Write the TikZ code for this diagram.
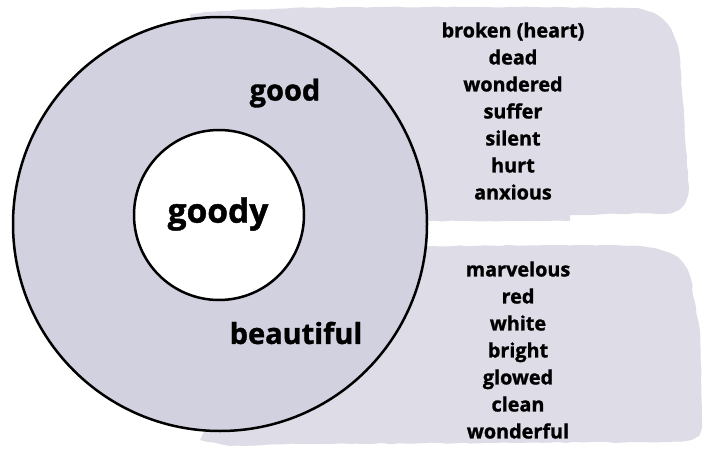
\documentclass[tikz,border=0pt]{standalone}
\usepackage{fontspec}
\setmainfont{Open Sans}[BoldFeatures={FakeBold=1.2}]
\usetikzlibrary{decorations.pathmorphing}
\definecolor{patch}{RGB}{221,220,231}
\definecolor{ring}{RGB}{209,209,223}
\tikzset{
  wordlist/.style={font=\fontsize{19.8}{27}\selectfont\bfseries, align=center, text=black, inner sep=0pt},
  ringlabel/.style={font=\fontsize{29}{32}\selectfont\bfseries, inner sep=0pt},
  patchfill/.style={fill=patch, draw=none},
  circ/.style={draw=black, line width=2.5pt}
}
\begin{document}
\begin{tikzpicture}[x=1pt,y=-1pt]
\useasboundingbox (0,0) rectangle (706,452);
% top patch
\fill[patch, decorate, decoration={random steps, segment length=8pt, amplitude=0.6pt}]
  (190,14) .. controls (250,6) and (400,6) .. (630,8)
  .. controls (665,10) and (675,30) .. (680,60)
  -- (688,180) .. controls (690,205) and (680,212) .. (660,213)
  -- (570,215) -- (570,221) -- (200,221) -- cycle;
% bottom patch
\fill[patch, decorate, decoration={random steps, segment length=8pt, amplitude=0.6pt}]
  (300,250) .. controls (400,246) and (550,244) .. (640,246)
  .. controls (680,250) and (690,265) .. (692,290)
  -- (700,330) -- (702,420) .. controls (703,435) and (695,440) .. (670,442)
  -- (300,444) -- (230,446) -- (200,440) -- cycle;
% circles
\node[circ, circle, fill=ring, minimum size=414pt, inner sep=0pt] (outer) at (220,224) {};
\node[circ, circle, fill=white, minimum size=170pt, inner sep=0pt] (inner) at (219,215) {};
% labels
\node[ringlabel, font=\fontsize{33.5}{36}\selectfont\bfseries] (goody) at (218,214) {goody};
\node[ringlabel] (good) at (285,93) {good};
\node[ringlabel] (beautiful) at (296,333) {beautiful};
\node[wordlist] (top) at (513,111) {broken (heart)\\dead\\wondered\\suffer\\silent\\hurt\\anxious};
\node[wordlist] (bottom) at (518,350) {marvelous\\red\\white\\bright\\glowed\\clean\\wonderful};
\end{tikzpicture}
\end{document}
